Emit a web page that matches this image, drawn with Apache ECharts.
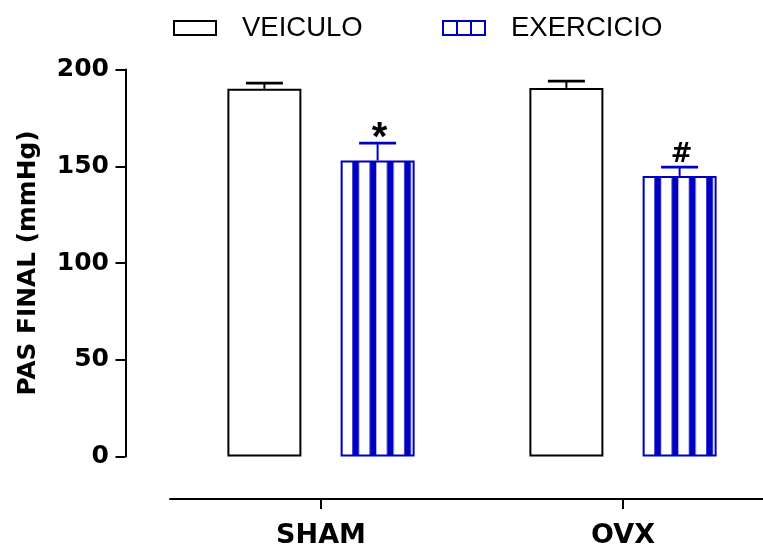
<!DOCTYPE html>
<html>
<head>
<meta charset="utf-8">
<script src="https://cdn.jsdelivr.net/npm/echarts@6/dist/echarts.min.js"></script>
<style>
  html, body { margin: 0; padding: 0; background: #fff; }
  #chart { width: 763px; height: 547px; }
</style>
</head>
<body>
<div id="chart"></div>
<script>
// ---- data ----
const categories = ['SHAM', 'OVX'];
const seriesNames = ['VEICULO', 'EXERCICIO'];
const veiculoMean = [190, 190.5];
const veiculoSem = [3, 3.5];
const exercicioMean = [153, 145];
const exercicioSem = [9, 4.5];
const veiculoMarks = ['', ''];
const exercicioMarks = ['*', '#'];
const yMin = 0, yMax = 200, yInterval = 50;
const yAxisName = 'PAS FINAL (mmHg)';

// ---- styles ----
const BLUE = '#0000c0';
const BLACK = '#000000';
const BAR_W = 74;
const BAR_GAP = 0.53;
const boldFont = 'DejaVu Sans';
const legendFont = 'Liberation Sans';

// stripe pattern (vertical blue stripes on white)
function makeStripes() {
  const period = 17.3, stripe = 6.7, n = 10;
  const c = document.createElement('canvas');
  c.width = Math.round(period * n); c.height = 8;
  const ctx = c.getContext('2d');
  ctx.fillStyle = '#ffffff'; ctx.fillRect(0, 0, c.width, c.height);
  ctx.fillStyle = BLUE;
  for (let k = 0; k < n; k++) ctx.fillRect(k * period, 0, stripe, c.height);
  return c;
}
const stripeImg = makeStripes();
const stripeOffsets = [6.3, 14.2];

const chart = echarts.init(document.getElementById('chart'), null, { renderer: 'canvas' });

const markStyle = {
  '*': { fontSize: 40, family: 'Liberation Sans', dx: 2, dy: 16 },
  '#': { fontSize: 26, family: 'DejaVu Sans', dx: 2, dy: 1 }
};

function errRenderer(side, color, marks) {
  return function (params, api) {
    const ci = api.value(0), mean = api.value(1), sem = api.value(2);
    const base = api.coord([ci, mean]);
    const top = api.coord([ci, mean + sem]);
    const x = base[0] + side * (BAR_W + BAR_W * BAR_GAP) / 2;
    const half = BAR_W / 4;
    const children = [
      { type: 'line', shape: { x1: x, y1: base[1], x2: x, y2: top[1] }, style: { stroke: color, lineWidth: 2 } },
      { type: 'line', shape: { x1: x - half, y1: top[1], x2: x + half, y2: top[1] }, style: { stroke: color, lineWidth: 2.8 } }
    ];
    const m = marks[params.dataIndex];
    if (m) {
      const ms = markStyle[m];
      children.push({
        type: 'text',
        x: x + ms.dx, y: top[1] + ms.dy,
        style: { text: m, fill: BLACK, fontSize: ms.fontSize, fontWeight: 'bold', fontFamily: ms.family, align: 'center', verticalAlign: 'bottom' }
      });
    }
    return { type: 'group', children: children };
  };
}

const option = {
  animation: false,
  backgroundColor: '#ffffff',
  legend: [
    {
      left: 173, top: 14, padding: 0, itemWidth: 42, itemHeight: 14, selectedMode: false,
      data: [{ name: seriesNames[0], icon: 'rect', itemStyle: { color: '#fff', borderColor: BLACK, borderWidth: 2 } }],
      textStyle: { fontFamily: legendFont, fontSize: 27.5, color: BLACK, padding: [0, 0, 0, 21] }
    },
    {
      left: 442, top: 14, padding: 0, itemWidth: 42, itemHeight: 14, selectedMode: false,
      data: [{ name: seriesNames[1], icon: 'path://M0,0L42,0L42,14L0,14Z M14,0L14,14 M28,0L28,14', itemStyle: { color: '#fff', borderColor: BLUE, borderWidth: 2 } }],
      textStyle: { fontFamily: legendFont, fontSize: 27.5, color: BLACK, padding: [0, 0, 0, 21] }
    }
  ],
  grid: { left: 170, right: -11, top: 69.5, bottom: 90.5, containLabel: false, outerBoundsMode: 'none' },
  xAxis: {
    type: 'category',
    data: categories,
    offset: 42.5,
    axisLine: { show: true, onZero: false, lineStyle: { color: BLACK, width: 2 } },
    axisTick: { show: true, alignWithLabel: true, length: 10, lineStyle: { color: BLACK, width: 2 } },
    axisLabel: { margin: 23, color: BLACK, fontFamily: boldFont, fontWeight: 'bold', fontSize: 27 },
    splitLine: { show: false }
  },
  yAxis: {
    type: 'value',
    min: yMin, max: yMax, interval: yInterval,
    offset: 44.5,
    name: yAxisName,
    nameLocation: 'middle',
    nameRotate: 90,
    nameGap: 84,
    nameTextStyle: { color: BLACK, fontFamily: boldFont, fontWeight: 'bold', fontSize: 24.8 },
    axisLine: { show: true, onZero: false, lineStyle: { color: BLACK, width: 2 } },
    axisTick: { show: true, length: 10, lineStyle: { color: BLACK, width: 2 } },
    axisLabel: { margin: 16.5, color: BLACK, fontFamily: boldFont, fontWeight: 'bold', fontSize: 25 },
    splitLine: { show: false }
  },
  series: [
    {
      name: seriesNames[0], type: 'bar', barWidth: BAR_W, barGap: (BAR_GAP * 100) + '%',
      itemStyle: { color: '#ffffff', borderColor: BLACK, borderWidth: 2 },
      emphasis: { disabled: true },
      data: veiculoMean
    },
    {
      name: seriesNames[1], type: 'bar', barWidth: BAR_W, barGap: (BAR_GAP * 100) + '%',
      itemStyle: { color: '#ffffff', borderColor: BLUE, borderWidth: 2 },
      emphasis: { disabled: true },
      data: exercicioMean.map((v, i) => ({
        value: v,
        itemStyle: { color: { image: stripeImg, repeat: 'repeat', x: stripeOffsets[i] }, borderColor: BLUE, borderWidth: 2 }
      }))
    },
    {
      name: 'err0', type: 'custom', z: 5,
      renderItem: errRenderer(-1, BLACK, veiculoMarks),
      data: veiculoMean.map((v, i) => [i, v, veiculoSem[i]])
    },
    {
      name: 'err1', type: 'custom', z: 5,
      renderItem: errRenderer(1, BLUE, exercicioMarks),
      data: exercicioMean.map((v, i) => [i, v, exercicioSem[i]])
    }
  ]
};
chart.setOption(option);
</script>
</body>
</html>
